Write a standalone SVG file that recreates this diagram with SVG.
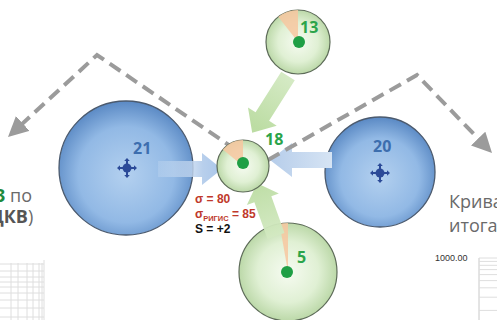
<svg xmlns="http://www.w3.org/2000/svg" width="497" height="320" viewBox="0 0 497 320">
<defs>
<radialGradient id="gBlue" cx="50%" cy="55%" r="55%">
<stop offset="0" stop-color="#b3d0ef"/>
<stop offset="0.65" stop-color="#92b9e5"/>
<stop offset="1" stop-color="#5a89c4"/>
</radialGradient>
<radialGradient id="gGreen" cx="50%" cy="50%" r="52%">
<stop offset="0" stop-color="#f6fbf1"/>
<stop offset="0.6" stop-color="#e0f0d4"/>
<stop offset="1" stop-color="#b8d6a4"/>
</radialGradient>
<linearGradient id="gArrowL" x1="158" y1="0" x2="222" y2="0" gradientUnits="userSpaceOnUse">
<stop offset="0" stop-color="#dce8f6" stop-opacity="0.2"/>
<stop offset="0.7" stop-color="#b8cfec"/>
<stop offset="1" stop-color="#a9c6ea"/>
</linearGradient>
<linearGradient id="gArrowR" x1="270" y1="0" x2="332" y2="0" gradientUnits="userSpaceOnUse">
<stop offset="0" stop-color="#b6cdea"/>
<stop offset="1" stop-color="#d6e4f4"/>
</linearGradient>
<linearGradient id="gArrowG" x1="0" y1="0" x2="60" y2="0" gradientUnits="userSpaceOnUse">
<stop offset="0" stop-color="#d3e9c2"/>
<stop offset="1" stop-color="#b9db9f"/>
</linearGradient>
<marker id="dashHead" viewBox="0 0 20 20" refX="6" refY="10" markerWidth="20" markerHeight="20" markerUnits="userSpaceOnUse" orient="auto">
<path d="M0,0 L20,10 L0,20 Z" fill="#9b9b9b"/>
</marker>
<g id="cross">
<circle r="4.5"/>
<path d="M-1,0 L-1,-7 L-2.8,-7 L0,-10 L2.8,-7 L1,-7 L1,0 Z"/>
<path d="M-1,0 L-1,-7 L-2.8,-7 L0,-10 L2.8,-7 L1,-7 L1,0 Z" transform="rotate(90)"/>
<path d="M-1,0 L-1,-7 L-2.8,-7 L0,-10 L2.8,-7 L1,-7 L1,0 Z" transform="rotate(180)"/>
<path d="M-1,0 L-1,-7 L-2.8,-7 L0,-10 L2.8,-7 L1,-7 L1,0 Z" transform="rotate(270)"/>
</g>
</defs>
<style>
.blue{fill:url(#gBlue);stroke:#4b5a6e;stroke-width:1.3}
.green{fill:url(#gGreen);stroke:#5d6b58;stroke-width:1.2}
.wedge{fill:#f7c7a0;opacity:0.85}
.dot{fill:#1f9f45}
.nb{font-family:"Open Sans","Liberation Sans",sans-serif;font-weight:bold;font-size:16px;fill:#3d6eae}
.ng{font-family:"Open Sans","Liberation Sans",sans-serif;font-weight:bold;font-size:16px;fill:#2ba44a}
.dash{fill:none;stroke:#9b9b9b;stroke-width:4;stroke-dasharray:13 7}
.sig{font-family:"Liberation Sans",sans-serif;font-weight:bold;font-size:12px;fill:#c0392b}
.side{font-family:"Open Sans","Liberation Sans",sans-serif;font-size:18px;fill:#6a6a6a}
.grid{stroke:#dedede;stroke-width:1;fill:none}
.crs{fill:#2b4a98}
</style>
<rect width="497" height="320" fill="#ffffff"/>

<!-- side texts -->
<g id="left-text">
<text class="side" x="-5" y="202"><tspan font-weight="bold" fill="#1f8a3b">3</tspan> по</text>
<text class="side" x="-10" y="223"><tspan font-weight="bold" fill="#555555">ДКВ</tspan>)</text>
</g>
<g id="right-text">
<text class="side" x="449" y="208">Крива</text>
<text class="side" x="449" y="232">итога</text>
<text x="435" y="261" font-family="Liberation Sans, sans-serif" font-size="9" fill="#333333">1000.00</text>
</g>

<!-- grids -->
<g id="grid-left" class="grid">
<path d="M0,264 H44 M0,271 H44 M0,277 H44 M0,282 H44 M0,287 H44 M0,293 H44 M0,300 H44 M0,308 H44 M0,317 H44"/>
<path d="M11,263 V320 M18,263 V320 M27,263 V320 M33,263 V320 M39,263 V320 M42,263 V320 M44,260 V320"/>
</g>
<g id="grid-right" class="grid">
<path d="M479,258 V320" stroke="#c8c8c8"/>
<path d="M479,258 H497 M479,261.4 H497 M479,265.3 H497 M479,269.6 H497 M479,274.6 H497 M479,280.6 H497 M479,287.8 H497 M479,297.2 H497 M479,310.4 H497"/>
</g>

<!-- large nodes -->
<g id="node-21">
<circle class="blue" cx="126" cy="168" r="67"/>
<use href="#cross" class="crs" x="127" y="168"/>
<text class="nb" x="133" y="154">21</text>
</g>
<g id="node-20">
<circle class="blue" cx="380" cy="172" r="55"/>
<use href="#cross" class="crs" x="380" y="173"/>
<text class="nb" x="373" y="152">20</text>
</g>
<g id="node-13">
<circle class="green" cx="298" cy="42" r="32"/>
<path class="wedge" d="M298,42 L298,10 A32,32 0 0,0 278.3,16.8 Z"/>
<circle class="dot" cx="299" cy="42" r="6"/>
<text class="ng" x="300" y="33">13</text>
</g>
<g id="node-5">
<circle class="green" cx="288" cy="272" r="49"/>
<path class="wedge" d="M288,272 L288,223 A49,49 0 0,0 279.5,223.7 Z"/>
<circle class="dot" cx="287" cy="272" r="6"/>
<text class="ng" x="297" y="263">5</text>
</g>

<!-- connectors -->
<g id="connectors">
<path d="M158,161 L202,161 L202,153 L222,169 L202,185 L202,177 L158,177 Z" fill="url(#gArrowL)"/>
<path d="M332,152 L292,152 L292,143 L270,160 L292,177 L292,168 L332,168 Z" fill="url(#gArrowR)"/>
<path transform="translate(288,76) rotate(122.3)" d="M0,-8 L48,-8 L48,-17 L67,0 L48,17 L48,8 L0,8 Z" fill="url(#gArrowG)" opacity="0.95"/>
<path transform="translate(276,236) rotate(-109.7)" d="M0,-9 L39,-9 L39,-17 L56,0 L39,17 L39,9 L0,9 Z" fill="url(#gArrowG)" opacity="0.95"/>
<polyline class="dash" points="236,150 97,55 18.3,127.5" marker-end="url(#dashHead)"/>
<polyline class="dash" points="268,160 417,75 482.3,142.9" marker-end="url(#dashHead)"/>
</g>

<!-- center node -->
<g id="node-18">
<circle class="green" cx="243" cy="166" r="26"/>
<path class="wedge" d="M243,166 L243,140 A26,26 0 0,0 222.8,149.6 Z"/>
<circle class="dot" cx="243" cy="163" r="6"/>
<text class="ng" x="265" y="145">18</text>
</g>

<g id="stats">
<text class="sig" x="195" y="203">σ = 80</text>
<text class="sig" x="195" y="218">σ<tspan font-size="7.5" dy="3">РИГИС</tspan><tspan dy="-3"> = 85</tspan></text>
<text class="sig" x="195" y="233" style="fill:#111111">S = +2</text>
</g>
</svg>
